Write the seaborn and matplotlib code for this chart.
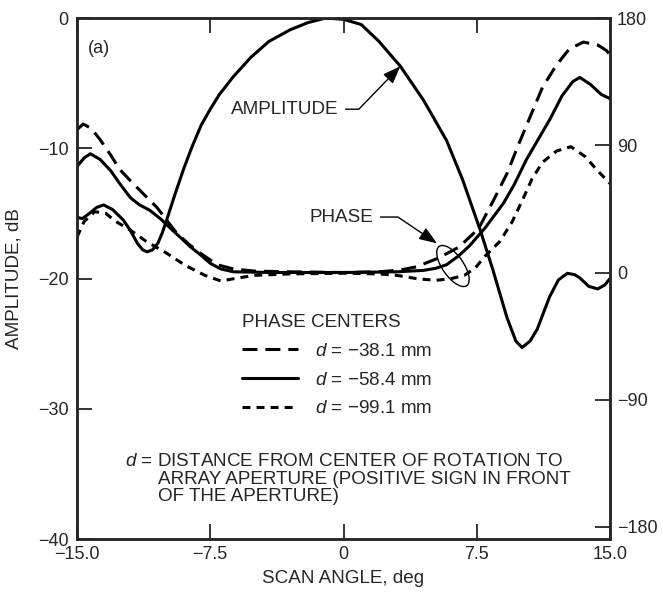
import pandas as pd
import seaborn as sns
import matplotlib.pyplot as plt
import matplotlib.transforms as mtransforms
from matplotlib.patches import Ellipse
from matplotlib.lines import Line2D

# amplitude pattern, dB
scan_amp = [-15.0, -14.7, -14.3, -13.9, -13.5, -13.0, -12.4, -12.0, -11.6, -11.3,
            -11.05, -10.75, -10.45, -10.2, -9.95, -9.5, -9.0, -8.5, -8.0, -7.5,
            -7.0, -6.2, -5.2, -4.2, -3.0, -2.0, -1.0, 0.0, 1.0, 2.0,
            3.2, 4.5, 5.8, 6.7, 7.7, 8.4, 9.2, 9.7, 10.05, 10.5,
            10.9, 11.6, 12.1, 12.6, 13.0, 13.3, 13.8, 14.3, 14.7, 15.0]
amp_db = [-15.3, -15.4, -15.0, -14.55, -14.35, -14.7, -15.5, -16.3, -17.3, -17.8,
          -17.95, -17.8, -17.3, -16.5, -15.5, -13.6, -11.6, -9.8, -8.2, -7.0,
          -5.9, -4.5, -3.0, -1.8, -0.9, -0.35, 0.0, -0.1, -0.5, -1.8,
          -3.7, -6.3, -9.4, -12.4, -16.3, -19.3, -23.0, -24.8, -25.3, -24.8,
          -23.9, -21.4, -20.1, -19.6, -19.7, -19.95, -20.6, -20.8, -20.5, -20.0]

# phase, deg, for three phase centres
scan_p38 = [-15.0, -14.65, -14.2, -13.7, -13.1, -12.6, -12.0, -11.45, -10.5, -9.4,
            -8.7, -8.1, -7.1, -6.2, -5.0, -3.0, 0.0, 2.0, 3.2, 4.1,
            5.3, 6.5, 7.6, 8.4, 9.2, 9.9, 10.6, 11.2, 12.0, 12.7,
            13.5, 14.3, 14.8, 15.0]
phase_p38 = [101, 105, 102, 94, 83, 73, 65, 58, 46, 28,
             20, 14, 5.5, 2.5, 1.0, 0.5, 0.0, 0.5, 1.8, 4,
             10, 18, 31, 50, 70, 92, 113, 131, 147, 158,
             163, 161, 157, 154]

scan_p58 = [-15.0, -14.6, -14.25, -13.7, -13.1, -12.6, -12.0, -11.5, -10.9, -10.3,
            -9.8, -9.2, -8.6, -8.0, -7.5, -6.9, -6.2, -4.0, 0.0, 3.0,
            4.5, 5.2, 5.8, 6.5, 7.1, 8.0, 9.0, 9.6, 10.3, 10.95,
            11.6, 12.3, 12.9, 13.3, 13.9, 14.5, 15.0]
phase_p58 = [75, 81, 84, 80, 72, 63, 53, 48, 44, 38,
             32, 25, 18, 12, 6.5, 2.5, 0.5, 0.0, 0.0, 0.5,
             1.5, 3, 5.5, 12, 19, 32, 49, 62, 80, 94,
             108, 125, 135, 138, 133, 126, 123]

scan_p99 = [-15.0, -14.6, -14.0, -13.4, -12.8, -12.0, -11.1, -10.0, -8.9, -7.8,
            -6.9, -6.0, -5.0, -3.0, 0.0, 2.0, 3.0, 4.2, 5.2, 6.0,
            6.8, 7.4, 8.0, 8.8, 9.5, 10.1, 10.6, 11.2, 12.0, 12.8,
            13.6, 14.3, 15.0]
phase_p99 = [25, 36, 43, 42, 36, 30, 22, 14, 5, -2,
             -6, -4, -2, -1, -0.5, -1, -2, -4.5, -5.5, -4.5,
             -2, 3, 12, 22, 36, 52, 66, 78, 86, 89,
             82, 72, 63]

d_labels = ['$d$ = \u221238.1 mm', '$d$ = \u221258.4 mm', '$d$ = \u221299.1 mm']
x_ticks = [-15.0, -7.5, 0, 7.5, 15.0]
x_ticklabels = ['\u221215.0', '\u22127.5', '0', '7.5', '15.0']
amp_ticks = [0, -10, -20, -30, -40]
phase_ticks = [180, 90, 0, -90, -180]

sns.set_style('ticks')
plt.rcParams['font.family'] = ['Liberation Sans', 'DejaVu Sans']
plt.rcParams['mathtext.fontset'] = 'custom'
plt.rcParams['mathtext.it'] = 'Liberation Sans:italic'
plt.rcParams['mathtext.rm'] = 'Liberation Sans'

fig = plt.figure(figsize=(6.63, 5.95), dpi=100)
ax = fig.add_axes([0.1161, 0.0941, 0.804, 0.8756])
ax2 = ax.twinx()

lw = 2.2
fs = 13.6
dash_map = {d_labels[0]: (4.9, 2.6), d_labels[1]: '', d_labels[2]: (2.6, 2.0)}

sns.lineplot(x=scan_amp, y=amp_db, color='black', lw=lw, ax=ax, sort=False, estimator=None)

phase_df = pd.concat([
    pd.DataFrame({'scan': scan_p38, 'phase': phase_p38, 'd': d_labels[0]}),
    pd.DataFrame({'scan': scan_p58, 'phase': phase_p58, 'd': d_labels[1]}),
    pd.DataFrame({'scan': scan_p99, 'phase': phase_p99, 'd': d_labels[2]}),
])
sns.lineplot(data=phase_df, x='scan', y='phase', style='d', dashes=dash_map,
             color='black', lw=lw, ax=ax2, legend=False, sort=False, estimator=None)

ax.set_xlim(-15, 15)
ax.set_ylim(-40, 0)
ax2.set_ylim(-188.5, 180)
ax.set_xticks(x_ticks)
ax.set_xticklabels(x_ticklabels)
ax.set_yticks(amp_ticks)
ax.set_yticklabels(['0', '\u221210', '\u221220', '\u221230', '\u221240'])
ax2.set_yticks(phase_ticks)
ax2.set_yticklabels(['180', '90', '0', '\u221290', '\u2212180'])

ax.tick_params(axis='x', direction='in', length=11, width=1.3, labelsize=13, top=True, pad=5)
ax.tick_params(axis='y', direction='in', length=11, width=1.3, labelsize=13, pad=6)
ax2.tick_params(axis='y', direction='in', length=11, width=1.3, labelsize=13, pad=5)
for a in (ax, ax2):
    for s in a.spines.values():
        s.set_linewidth(1.8)
ax2.set_ylabel('')

ax.set_xlabel('SCAN ANGLE, deg', fontsize=fs)
ax.set_ylabel('AMPLITUDE, dB', fontsize=fs)
ax.xaxis.set_label_coords(0.5, -0.06)
ax.yaxis.set_label_coords(-0.103, 0.5)

ax.text(0.021, 0.942, '(a)', transform=ax.transAxes, fontsize=13, va='center')

# arrows to the curves
ax.annotate('AMPLITUDE', xy=(3.2, -3.7), xytext=(-0.3, -7.0), fontsize=fs,
            ha='right', va='center',
            arrowprops=dict(arrowstyle='-|>,head_length=0.8,head_width=0.3', color='black',
                            lw=1.0, shrinkA=3, shrinkB=0,
                            connectionstyle='angle,angleA=0,angleB=46,rad=0'))
ax.annotate('PHASE', xy=(5.26, -17.3), xytext=(1.66, -15.28), fontsize=fs,
            ha='right', va='center',
            arrowprops=dict(arrowstyle='-|>,head_length=0.8,head_width=0.3', color='black',
                            lw=1.0, shrinkA=3, shrinkB=0,
                            connectionstyle='angle,angleA=0,angleB=-34,rad=0'))
ell = Ellipse((0, 0), 48, 21, angle=-55, fill=False, lw=1.0, color='black',
              transform=mtransforms.ScaledTranslation(6.16, -19.04, ax.transData))
ax.add_patch(ell)

handles = [Line2D([], [], color='black', lw=lw, dashes=(4.9, 2.6)),
           Line2D([], [], color='black', lw=lw),
           Line2D([], [], color='black', lw=lw, dashes=(2.6, 2.0))]
leg = ax2.legend(handles, d_labels, title='PHASE CENTERS', loc='upper left',
                 bbox_to_anchor=(0.295, 0.447), frameon=False, fontsize=fs,
                 title_fontsize=fs, handlelength=3.0, handletextpad=0.9,
                 labelspacing=0.62, alignment='left', borderaxespad=0)

ax.text(0.090, 0.148, '$d$ = DISTANCE FROM CENTER OF ROTATION TO', transform=ax.transAxes,
        fontsize=fs, va='center')
ax.text(0.152, 0.115, 'ARRAY APERTURE (POSITIVE SIGN IN FRONT', transform=ax.transAxes,
        fontsize=fs, va='center')
ax.text(0.152, 0.082, 'OF THE APERTURE)', transform=ax.transAxes,
        fontsize=fs, va='center')

fig.savefig('out.png', dpi=100)
